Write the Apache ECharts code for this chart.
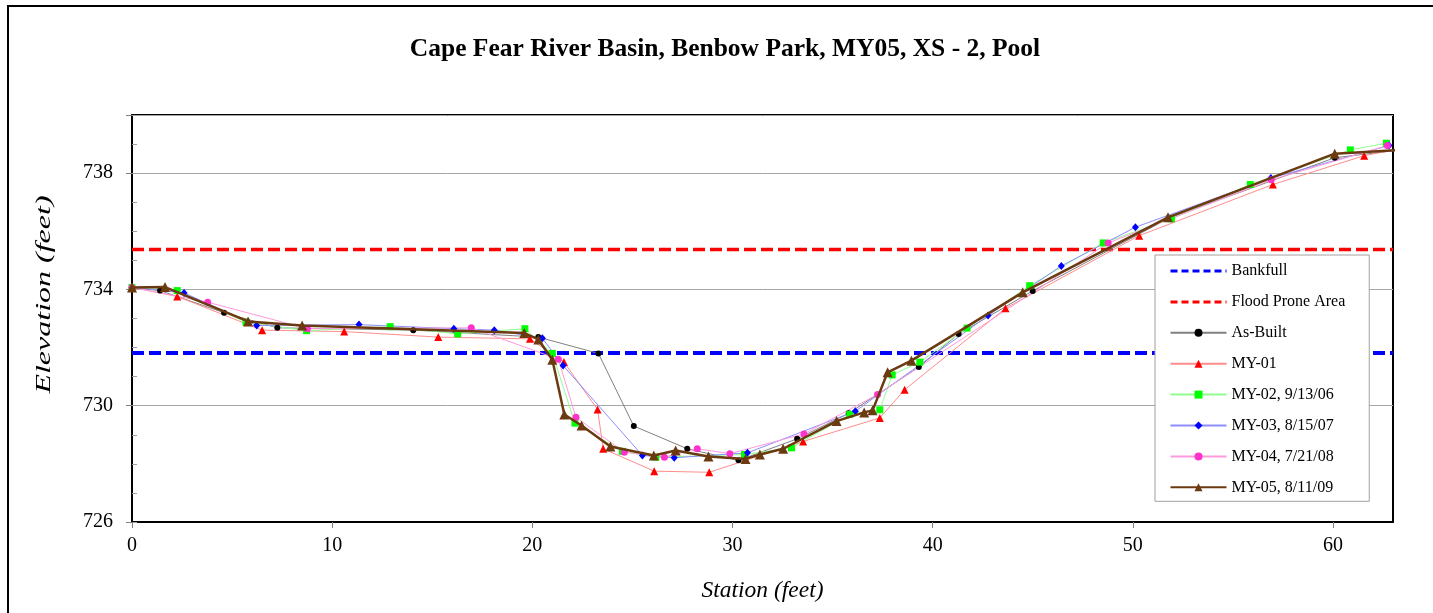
<!DOCTYPE html>
<html>
<head>
<meta charset="utf-8">
<script src="https://cdn.jsdelivr.net/npm/echarts@6/dist/echarts.min.js"></script>
<style>
  html, body { margin: 0; padding: 0; background: #ffffff; }
  #chart { width: 1433px; height: 613px; }
</style>
</head>
<body>
<div id="chart"></div>
<script>
// Cross-section survey: station (ft) vs elevation (ft)
const bankfullElev = 731.81;
const floodProneElev = 735.37;
const stationRange = [0, 63];

const asBuilt = [[0,734.07],[1.4,733.96],[4.6,733.2],[7.26,732.68],[14.05,732.6],[20.3,732.36],[23.3,731.8],[25.07,729.3],[27.74,728.52],[30.3,728.12],[33.23,728.86],[35.81,729.74],[39.31,731.33],[41.3,732.47],[45.0,733.95],[51.8,736.45],[60.09,738.53],[63.4,738.8]];
const my01 = [[0,734.07],[2.26,733.76],[6.5,732.6],[10.6,732.55],[15.3,732.36],[19.88,732.3],[21.58,731.5],[23.26,729.87],[23.54,728.52],[26.09,727.75],[28.84,727.71],[33.53,728.77],[37.36,729.58],[38.6,730.55],[43.64,733.35],[50.32,735.85],[57.0,737.61],[61.56,738.6],[63.4,738.85]];
const my02 = [[0,734.07],[2.26,733.96],[5.7,732.87],[8.72,732.58],[12.9,732.72],[16.27,732.47],[19.63,732.65],[21.0,731.8],[22.13,729.4],[24.5,728.43],[26.17,728.23],[30.6,728.32],[32.95,728.55],[35.86,729.7],[37.36,729.86],[37.98,731.06],[39.36,731.5],[41.72,732.67],[44.85,734.13],[48.52,735.6],[51.93,736.43],[55.87,737.61],[60.87,738.8],[62.67,739.03]];
const my03 = [[0,734.07],[2.6,733.88],[6.23,732.76],[11.34,732.79],[16.08,732.65],[18.1,732.6],[20.5,732.32],[21.54,731.38],[25.5,728.29],[27.09,728.21],[30.75,728.38],[36.14,729.81],[42.77,733.1],[46.43,734.81],[50.13,736.14],[56.9,737.83],[62.8,738.95]];
const my04 = [[0,734.07],[3.78,733.56],[8.76,732.65],[16.95,732.68],[21.3,731.6],[22.18,729.6],[24.6,728.4],[26.6,728.23],[28.24,728.52],[29.87,728.35],[33.57,729.03],[37.25,730.39],[48.77,735.6],[56.92,737.77],[62.72,738.95]];
const my05 = [[0,734.07],[1.65,734.08],[5.8,732.9],[8.5,732.76],[19.6,732.5],[20.3,732.28],[21.0,731.58],[21.6,729.7],[22.46,729.32],[23.9,728.6],[26.07,728.29],[27.16,728.46],[28.8,728.25],[30.65,728.17],[31.37,728.32],[32.53,728.52],[35.2,729.47],[36.58,729.77],[37.0,729.84],[37.75,731.15],[38.94,731.55],[44.5,733.9],[51.76,736.48],[60.09,738.67],[63.4,738.8]];

const yTicks = [726, 730, 734, 738];

const serif = '"Liberation Serif", "DejaVu Serif", serif';

const chart = echarts.init(document.getElementById('chart'));

function levelLine(name, elev, color, width) {
  return {
    name: name, type: 'line', symbol: 'none', silent: true, z: 1,
    data: [[stationRange[0], elev], [stationRange[1], elev]],
    lineStyle: { color: color, width: width, type: [12, 5] },
    itemStyle: { color: color }
  };
}

function survey(name, data, opts) {
  return {
    name: name, type: 'line', data: data, z: opts.z || 2,
    symbol: opts.symbol, symbolSize: opts.size, showSymbol: true,
    lineStyle: { color: opts.line, width: opts.width || 1 },
    itemStyle: { color: opts.marker },
    emphasis: { disabled: true }
  };
}

// legend entries for the level lines: dashed stroke only, no marker
function dashedEntry(name, color) {
  return {
    name: name,
    itemStyle: { color: 'rgba(0,0,0,0)', opacity: 0, borderWidth: 0 },
    lineStyle: { color: color, width: 3, type: [7, 4] }
  };
}

chart.setOption({
  animation: false,
  backgroundColor: '#ffffff',
  title: {
    text: 'Cape Fear River Basin, Benbow Park, MY05, XS - 2, Pool',
    left: 720, top: 31, textAlign: 'center',
    textStyle: { fontFamily: serif, fontSize: 25.5, fontWeight: 'bold', color: '#000' }
  },
  graphic: [{
    type: 'rect', shape: { x: 8, y: 6, width: 1440, height: 640 },
    style: { fill: 'none', stroke: '#000', lineWidth: 2 }, silent: true
  }, {
    type: 'text', x: 45, y: 294.5, rotation: Math.PI / 2, scaleX: 1.6, silent: true,
    style: {
      text: 'Elevation (feet)', fontFamily: serif, fontSize: 20, fontStyle: 'italic',
      fill: '#000', align: 'center', verticalAlign: 'middle'
    }
  }],
  grid: { left: 132, top: 115, right: 40, bottom: 91, containLabel: false,
    show: true, borderColor: '#000', borderWidth: 2, backgroundColor: 'rgba(0,0,0,0)' },
  legend: {
    orient: 'vertical', left: 1155, top: 255,
    padding: [8, 24, 6, 14],
    itemWidth: 56, itemHeight: 10, itemGap: 14.9,
    backgroundColor: '#ffffff', borderColor: '#a0a0a0', borderWidth: 1,
    textStyle: { fontFamily: serif, fontSize: 16, color: '#000' },
    data: [dashedEntry('Bankfull', '#0000ff'), dashedEntry('Flood Prone Area', '#ff0000'),
      'As-Built', 'MY-01', 'MY-02, 9/13/06', 'MY-03, 8/15/07', 'MY-04, 7/21/08', 'MY-05, 8/11/09']
  },
  xAxis: {
    type: 'value', min: stationRange[0], max: stationRange[1], interval: 10,
    name: 'Station (feet)', nameLocation: 'middle', nameGap: 57,
    nameTextStyle: { fontFamily: serif, fontSize: 23.5, fontStyle: 'italic', color: '#000' },
    axisLine: { lineStyle: { color: '#000', width: 2 } },
    axisTick: { show: true, length: 6, lineStyle: { color: '#808080' } },
    axisLabel: { fontFamily: serif, fontSize: 20, color: '#000', margin: 14, showMaxLabel: false },
    splitLine: { show: false }
  },
  yAxis: [{
    type: 'value', min: 726, max: 740, interval: 4,
    axisLine: { show: true, lineStyle: { color: '#000', width: 2 } },
    axisTick: { show: true, length: 6, lineStyle: { color: '#808080' } },
    axisLabel: { fontFamily: serif, fontSize: 20, color: '#000', margin: 19,
      formatter: v => yTicks.indexOf(v) >= 0 ? String(v) : '' },
    splitLine: { show: true, lineStyle: { color: '#a6a6a6', width: 1 } }
  }, {
    type: 'value', min: 726, max: 740, interval: 1, position: 'left',
    axisLine: { show: false }, axisLabel: { show: false }, splitLine: { show: false },
    axisTick: { show: true, inside: true, length: 5, lineStyle: { color: '#a0a0a0' } }
  }],
  series: [
    levelLine('Bankfull', bankfullElev, '#0000ff', 4),
    levelLine('Flood Prone Area', floodProneElev, '#ff0000', 3.5),
    survey('As-Built', asBuilt, { symbol: 'circle', size: 6, marker: '#000000', line: '#808080' }),
    survey('MY-01', my01, { symbol: 'triangle', size: 8, marker: '#ff0000', line: '#ff8c8c' }),
    survey('MY-02, 9/13/06', my02, { symbol: 'rect', size: 7, marker: '#00ff00', line: '#90ff90' }),
    survey('MY-03, 8/15/07', my03, { symbol: 'diamond', size: [7, 8], marker: '#0000ff', line: '#8c8cff' }),
    survey('MY-04, 7/21/08', my04, { symbol: 'circle', size: 7, marker: '#ff33cc', line: '#ff99dd' }),
    survey('MY-05, 8/11/09', my05, { symbol: 'triangle', size: 10, marker: '#6b3a10', line: '#6b3a10', width: 2.5, z: 3 })
  ]
});
</script>
</body>
</html>
